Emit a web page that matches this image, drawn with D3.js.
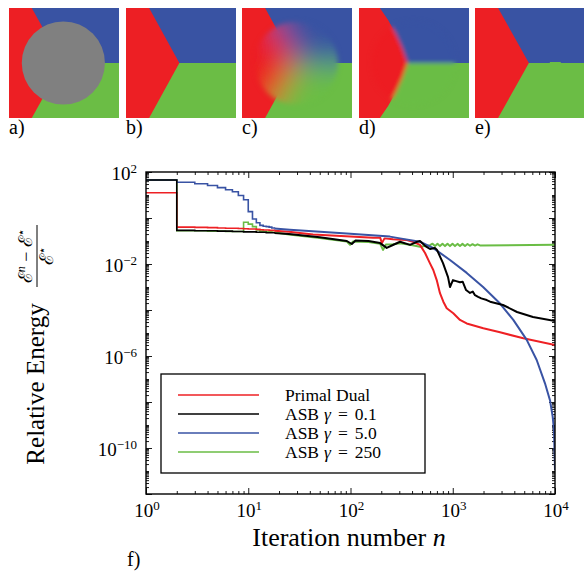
<!DOCTYPE html>
<html>
<head>
<meta charset="utf-8">
<script src="https://cdn.jsdelivr.net/npm/d3@7"></script>
<style>
  body { margin: 0; background: #fff; }
  text { font-family: "Liberation Serif", "Times New Roman", serif; }
</style>
</head>
<body>
<script>
// ---- data ----
var panelLabels = ["a)", "b)", "c)", "d)", "e)"];
var xTickExps = [0, 1, 2, 3, 4];
var yTickExps = [2, -2, -6, -10];

var seriesNames = ["Primal Dual", "ASB", "ASB", "ASB"];
var seriesGamma = [null, "0.1", "5.0", "250"];
var seriesColors = ["#ee2024", "#000000", "#3953a4", "#6abd45"];

// first iterations n = 1..18 (staircase)
var stepN = [1, 2, 3, 4, 5, 6, 7, 8, 9, 10, 11, 12, 13, 14, 15, 16, 17, 18];
var primalStepE = [12.6, 0.40, 0.39, 0.38, 0.37, 0.36, 0.36, 0.35, 0.34, 0.33, 0.33, 0.32, 0.31, 0.30, 0.30, 0.29, 0.29, 0.28];
var asb01StepE  = [45, 0.29, 0.28, 0.28, 0.27, 0.27, 0.26, 0.26, 0.25, 0.25, 0.25, 0.24, 0.24, 0.24, 0.23, 0.23, 0.23, 0.22];
var asb5StepE   = [45, 35.6, 31, 26, 21, 17, 13.9, 9.5, 6.2, 1.9, 0.9, 0.62, 0.48, 0.44, 0.42, 0.40, 0.37, 0.35];
var asb250StepE = [45, 0.28, 0.28, 0.27, 0.27, 0.26, 0.26, 0.26, 0.65, 0.54, 0.42, 0.30, 0.27, 0.26, 0.25, 0.25, 0.24, 0.24];

// later iterations
var primalTailN = [18, 25, 43, 100, 166, 195, 203, 215, 260, 355, 408, 478, 536, 599, 645, 697, 750, 809, 873, 1012, 1177, 1368, 1990, 2900, 4900, 10000];
var primalTailE = [0.28, 0.25, 0.19, 0.155, 0.14, 0.14, 0.081, 0.13, 0.12, 0.11, 0.093, 0.068, 0.030, 0.0107, 5.5e-3, 2.0e-3, 5.4e-4, 2.3e-4, 1.2e-4, 7.2e-5, 3.7e-5, 2.6e-5, 1.6e-5, 1.07e-5, 5.9e-6, 3.0e-6];

var asb01TailN = [18, 25, 50, 92, 103, 112, 150, 195, 226, 260, 305, 382, 440, 478, 540, 599, 670, 701, 803, 899, 940, 1005, 1080, 1177, 1250, 1350, 1475, 1570, 1650, 1770, 1900, 2150, 2320, 3100, 4250, 6090, 10000];
var asb01TailE = [0.22, 0.20, 0.145, 0.10, 0.074, 0.105, 0.10, 0.081, 0.05, 0.067, 0.093, 0.068, 0.09, 0.10, 0.06, 0.045, 0.05, 0.041, 0.011, 2.7e-3, 1.0e-3, 2.0e-3, 1.8e-3, 1.6e-3, 1.7e-3, 7.4e-4, 5.5e-4, 6.3e-4, 4.4e-4, 3.7e-4, 3.2e-4, 2.7e-4, 2.3e-4, 1.65e-4, 8.2e-5, 5.0e-5, 3.3e-5];

var asb5TailN = [18, 25.5, 92, 243, 305, 478, 640, 940, 1370, 1980, 2900, 3910, 5290, 6620, 7980, 8930, 9490, 9780, 10000];
var asb5TailE = [0.35, 0.31, 0.21, 0.155, 0.13, 0.093, 0.05, 0.015, 4.1e-3, 1e-3, 1.9e-4, 3.7e-5, 5e-6, 6.7e-7, 6.5e-8, 1.2e-8, 2.3e-9, 6e-10, 1.1e-11];

var asb250TailN = [18, 25, 50, 92, 99, 106, 150, 195, 208, 222, 260, 305, 382, 478, 599, 634, 671, 709, 750, 794, 840, 889, 940, 995, 1052, 1113, 1177, 1245, 1318, 1394, 1475, 1561, 1651, 1747, 1848, 10000];
var asb250TailE = [0.24, 0.19, 0.135, 0.095, 0.068, 0.095, 0.09, 0.075, 0.041, 0.07, 0.072, 0.08, 0.068, 0.056, 0.066, 0.076, 0.060, 0.076, 0.060, 0.076, 0.060, 0.076, 0.060, 0.076, 0.060, 0.075, 0.061, 0.075, 0.061, 0.074, 0.062, 0.073, 0.063, 0.072, 0.064, 0.068];

var stepValues = [primalStepE, asb01StepE, asb5StepE, asb250StepE];
var tailNs = [primalTailN, asb01TailN, asb5TailN, asb250TailN];
var tailEs = [primalTailE, asb01TailE, asb5TailE, asb250TailE];
var drawOrder = [3, 0, 2, 1];

// ---- svg ----
var svg = d3.select("body").append("svg")
    .attr("width", 584)
    .attr("height", 571);

var defs = svg.append("defs");

// ---- top row: segmentation images ----
var red = "#ed1f24", blue = "#3953a3", green = "#6bbd45";
var S = 110;
var panelX = [9, 126, 242, 359, 475];
var panelY = 8;

defs.append("clipPath").attr("id", "panel-clip")
  .append("rect").attr("width", S).attr("height", S);

function addBlur(id, sd) {
  defs.append("filter").attr("id", id)
      .attr("filterUnits", "userSpaceOnUse")
      .attr("x", -100).attr("y", -100).attr("width", 320).attr("height", 320)
    .append("feGaussianBlur").attr("stdDeviation", sd);
}
addBlur("blur-c", 15);
addBlur("blur-d", 2.2);
addBlur("blur-edge", 2.5);

var cx = 0.494 * S, cy = 0.5 * S, cr = 0.378 * S;

var mask = defs.append("mask").attr("id", "hole-mask")
    .attr("maskUnits", "userSpaceOnUse")
    .attr("x", -100).attr("y", -100).attr("width", 320).attr("height", 320);
mask.append("circle").attr("cx", cx).attr("cy", cy).attr("r", cr)
    .attr("fill", "#fff").attr("filter", "url(#blur-edge)");

// red region: top edge at a, vertex at v (fractions of width), optional bend
function partition(g, a, v, bend) {
  var ext = 80;
  g.append("rect").attr("x", -ext).attr("y", -ext).attr("width", S + 2 * ext).attr("height", S / 2 + ext).attr("fill", blue);
  g.append("rect").attr("x", -ext).attr("y", S / 2).attr("width", S + 2 * ext).attr("height", S / 2 + ext).attr("fill", green);
  var k = (v - a) * S / (S / 2);
  var p = d3.path();
  p.moveTo(-ext, -ext);
  p.lineTo(a * S - k * ext, -ext);
  p.lineTo(a * S, 0);
  if (bend) {
    p.quadraticCurveTo((a + v) / 2 * S + bend, S * 0.25 - bend, v * S, S / 2);
    p.quadraticCurveTo((a + v) / 2 * S + bend, S * 0.75 + bend, a * S, S);
  } else {
    p.lineTo(v * S, S / 2);
    p.lineTo(a * S, S);
  }
  p.lineTo(a * S - k * ext, S + ext);
  p.lineTo(-ext, S + ext);
  p.closePath();
  g.append("path").attr("d", p.toString()).attr("fill", red);
}

// diffuse fill of the hole: boundary colours spread from the centre, then blurred
function diffuseHole(g) {
  var arc = d3.arc().innerRadius(0).outerRadius(S);
  var deg = Math.PI / 180;
  var sectors = [[210, 330, red], [330, 450, blue], [90, 210, green]];
  var sg = g.append("g").attr("mask", "url(#hole-mask)")
    .append("g").attr("filter", "url(#blur-c)")
    .append("g").attr("transform", "translate(" + cx + "," + cy + ")");
  sectors.forEach(function(s) {
    sg.append("path")
        .attr("d", arc({ startAngle: s[0] * deg, endAngle: s[1] * deg }))
        .attr("fill", s[2]);
  });
}

panelX.forEach(function(px, i) {
  var g = svg.append("g").attr("transform", "translate(" + px + "," + panelY + ")");
  var inner = g.append("g").attr("clip-path", "url(#panel-clip)");
  if (i === 0) {
    partition(inner, 0.207, 0.485, 0);
    inner.append("circle").attr("cx", cx).attr("cy", cy).attr("r", cr).attr("fill", "#808080");
  } else if (i === 1) {
    partition(inner, 0.21, 0.485, 0);
  } else if (i === 2) {
    partition(inner, 0.21, 0.485, 0);
    diffuseHole(inner);
  } else if (i === 3) {
    partition(inner, 0.19, 0.44, 4);
    var ov2 = inner.append("g").attr("mask", "url(#hole-mask)")
      .append("g").attr("filter", "url(#blur-d)");
    partition(ov2, 0.19, 0.44, 4);
  } else {
    partition(inner, 0.21, 0.49, 0);
    inner.append("rect").attr("x", 0.68 * S).attr("y", S / 2 - 1).attr("width", 0.1 * S).attr("height", 1).attr("fill", green);
  }
  svg.append("text")
      .attr("x", px)
      .attr("y", 134)
      .attr("font-size", 20)
      .text(panelLabels[i]);
});

// ---- chart f) ----
var plotLeft = 146, plotRight = 555, plotTop = 172, plotBottom = 494;
var x = d3.scaleLog().domain([1, 1e4]).range([plotLeft, plotRight]);
var y = d3.scaleLog().domain([1e-12, 1e2]).range([plotBottom, plotTop]);

defs.append("clipPath").attr("id", "plot-clip")
  .append("rect").attr("x", plotLeft).attr("y", plotTop)
  .attr("width", plotRight - plotLeft).attr("height", plotBottom - plotTop);

// ticks
var xMajor = [], xMinor = [];
for (var e = 0; e <= 4; e++) {
  xMajor.push(Math.pow(10, e));
  if (e < 4) for (var m = 2; m <= 9; m++) xMinor.push(m * Math.pow(10, e));
}
var yMajor = [], yMinor = [];
for (var e2 = -12; e2 <= 2; e2++) {
  if (e2 % 2 === 0) yMajor.push(Math.pow(10, e2)); else yMinor.push(Math.pow(10, e2));
  if (e2 < 2) for (var m2 = 2; m2 <= 9; m2++) yMinor.push(m2 * Math.pow(10, e2));
}

function tickAxis(axisFn, scale, values, size, transform) {
  var g = svg.append("g")
      .attr("transform", transform)
      .call(axisFn(scale).tickValues(values).tickSizeInner(size).tickSizeOuter(0));
  g.select(".domain").remove();
  g.selectAll(".tick text").remove();
  g.selectAll(".tick line").attr("stroke", "#000").attr("stroke-width", 0.9);
}
tickAxis(d3.axisBottom, x, xMajor, -6, "translate(0," + plotBottom + ")");
tickAxis(d3.axisBottom, x, xMinor, -3, "translate(0," + plotBottom + ")");
tickAxis(d3.axisTop, x, xMajor, -6, "translate(0," + plotTop + ")");
tickAxis(d3.axisTop, x, xMinor, -3, "translate(0," + plotTop + ")");
tickAxis(d3.axisLeft, y, yMajor, -6, "translate(" + plotLeft + ",0)");
tickAxis(d3.axisLeft, y, yMinor, -3, "translate(" + plotLeft + ",0)");
tickAxis(d3.axisRight, y, yMajor, -6, "translate(" + plotRight + ",0)");
tickAxis(d3.axisRight, y, yMinor, -3, "translate(" + plotRight + ",0)");

// series
var stepLine = d3.line().curve(d3.curveStepAfter)
    .x(function(d) { return x(d[0]); })
    .y(function(d) { return y(d[1]); });
var tailLine = d3.line()
    .x(function(d) { return x(d[0]); })
    .y(function(d) { return y(d[1]); });

var plot = svg.append("g").attr("clip-path", "url(#plot-clip)");
drawOrder.forEach(function(s) {
  var steps = stepN.map(function(n, i) { return [n, stepValues[s][i]]; });
  var tail = tailNs[s].map(function(n, i) { return [n, tailEs[s][i]]; });
  plot.append("path").datum(steps)
      .attr("d", stepLine)
      .attr("fill", "none")
      .attr("stroke", seriesColors[s])
      .attr("stroke-width", 1.6);
  plot.append("path").datum(tail)
      .attr("d", tailLine)
      .attr("fill", "none")
      .attr("stroke", seriesColors[s])
      .attr("stroke-width", 2)
      .attr("stroke-linejoin", "round");
});

// frame
svg.append("rect")
    .attr("x", plotLeft).attr("y", plotTop)
    .attr("width", plotRight - plotLeft).attr("height", plotBottom - plotTop)
    .attr("fill", "none").attr("stroke", "#000").attr("stroke-width", 1.4);

// tick labels
function expText(e) { return e < 0 ? "\u2212" + (-e) : String(e); }
xTickExps.forEach(function(e) {
  var t = svg.append("text")
      .attr("x", x(Math.pow(10, e)) + 1)
      .attr("y", 517)
      .attr("text-anchor", "middle")
      .attr("font-size", 19);
  t.append("tspan").text("10");
  t.append("tspan").attr("dy", -7).attr("font-size", 13).text(expText(e));
});
yTickExps.forEach(function(e) {
  var t = svg.append("text")
      .attr("x", 137)
      .attr("y", y(Math.pow(10, e)) + 8)
      .attr("text-anchor", "end")
      .attr("font-size", 19);
  t.append("tspan").text("10");
  t.append("tspan").attr("dy", -7).attr("font-size", 13).text(expText(e));
});

// axis titles
var xt = svg.append("text")
    .attr("x", 349)
    .attr("y", 546)
    .attr("text-anchor", "middle")
    .attr("font-size", 26);
xt.append("tspan").text("Iteration number ");
xt.append("tspan").attr("font-style", "italic").text("n");

svg.append("text")
    .attr("transform", "translate(44,384) rotate(-90)")
    .attr("text-anchor", "middle")
    .attr("font-size", 25)
    .text("Relative Energy");

var frac = svg.append("g").attr("transform", "translate(37,256) rotate(-90)");
frac.append("line").attr("x1", -31).attr("x2", 31).attr("y1", 0).attr("y2", 0)
    .attr("stroke", "#000").attr("stroke-width", 1);
var num = frac.append("text").attr("y", -5).attr("text-anchor", "middle").attr("font-size", 18);
num.append("tspan").attr("font-family", "DejaVu Serif").attr("font-size", 19).text("\u2130");
num.append("tspan").attr("dy", -7).attr("font-size", 12).attr("font-style", "italic").text("n");
num.append("tspan").attr("dy", 7).text(" \u2212 ");
num.append("tspan").attr("font-family", "DejaVu Serif").attr("font-size", 19).text("\u2130");
num.append("tspan").attr("dy", -7).attr("font-size", 12).attr("font-family", "DejaVu Sans").text("\u22C6");
var den = frac.append("text").attr("y", 16).attr("text-anchor", "middle").attr("font-size", 18);
den.append("tspan").attr("font-family", "DejaVu Serif").attr("font-size", 19).text("\u2130");
den.append("tspan").attr("dy", -7).attr("font-size", 12).attr("font-family", "DejaVu Sans").text("\u22C6");

svg.append("text")
    .attr("x", 127)
    .attr("y", 566)
    .attr("font-size", 20)
    .text("f)");

// legend
var legend = svg.append("g");
legend.append("rect")
    .attr("x", 161).attr("y", 374)
    .attr("width", 264).attr("height", 99)
    .attr("fill", "#fff").attr("stroke", "#000").attr("stroke-width", 1.3);
var rowY = d3.scalePoint().domain(d3.range(seriesNames.length)).range([395, 452]);
seriesNames.forEach(function(name, i) {
  var ry = rowY(i);
  legend.append("line")
      .attr("x1", 178).attr("x2", 259)
      .attr("y1", ry).attr("y2", ry)
      .attr("stroke", seriesColors[i]).attr("stroke-width", 1.3);
  var t = legend.append("text")
      .attr("x", 285).attr("y", ry + 6)
      .attr("font-size", 17.5);
  t.append("tspan").text(name);
  if (seriesGamma[i]) {
    t.append("tspan").attr("dx", 5).attr("font-style", "italic").text("\u03B3");
    t.append("tspan").attr("dx", 7).text("=");
    t.append("tspan").attr("dx", 7).text(seriesGamma[i]);
  }
});
</script>
</body>
</html>
